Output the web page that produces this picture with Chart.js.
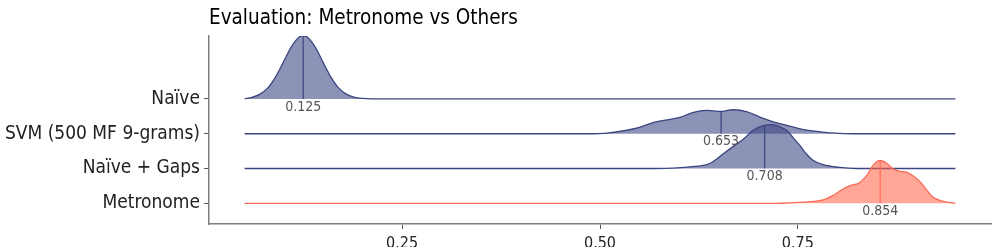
<!DOCTYPE html>
<html>
<head>
<meta charset="utf-8">
<script src="https://cdn.jsdelivr.net/npm/chart.js@4/dist/chart.umd.min.js"></script>
<style>
  html, body { margin: 0; padding: 0; background: #fff; }
  #wrap { width: 992px; height: 247px; position: relative; }
</style>
</head>
<body>
<div id="wrap"><canvas id="ridges"></canvas></div>
<script>
// rows from bottom (1) to top (4)
const rows = ["Metronome", "Naïve + Gaps", "SVM (500 MF 9-grams)", "Naïve"];
const medians = [0.854, 0.708, 0.653, 0.125];
const medianHeights = [1.23, 1.23, 0.65, 1.82];
const xTicks = [0.25, 0.50, 0.75];

// density estimates (x value, ridge height)
const metX = [0.051, 0.72, 0.736, 0.761, 0.782, 0.794, 0.807, 0.816, 0.828, 0.837, 0.845, 0.854, 0.862, 0.870, 0.879, 0.888, 0.895, 0.904, 0.913, 0.920, 0.933, 0.946, 0.949];
const metH = [0, 0, 0.01, 0.04, 0.10, 0.22, 0.41, 0.51, 0.59, 0.80, 1.09, 1.23, 1.15, 0.99, 0.92, 0.89, 0.80, 0.63, 0.38, 0.19, 0.06, 0.01, 0];

const gapsX = [0.051, 0.57, 0.592, 0.614, 0.635, 0.643, 0.655, 0.668, 0.681, 0.693, 0.706, 0.718, 0.727, 0.736, 0.744, 0.753, 0.761, 0.769, 0.782, 0.803, 0.824, 0.949];
const gapsH = [0, 0, 0.01, 0.05, 0.11, 0.20, 0.41, 0.63, 0.84, 1.09, 1.23, 1.26, 1.20, 1.09, 0.89, 0.65, 0.41, 0.24, 0.11, 0.03, 0, 0];

const svmX = [0.051, 0.48, 0.500, 0.509, 0.534, 0.551, 0.567, 0.585, 0.601, 0.617, 0.635, 0.652, 0.668, 0.686, 0.702, 0.718, 0.736, 0.753, 0.769, 0.787, 0.803, 0.82, 0.949];
const svmH = [0, 0, 0.005, 0.02, 0.10, 0.19, 0.32, 0.40, 0.47, 0.61, 0.67, 0.64, 0.69, 0.63, 0.48, 0.35, 0.24, 0.14, 0.08, 0.03, 0.01, 0, 0];

const naiveX = [0.051, 0.06, 0.07, 0.08, 0.09, 0.10, 0.11, 0.12, 0.125, 0.13, 0.14, 0.15, 0.16, 0.17, 0.18, 0.19, 0.20, 0.21, 0.949];
const naiveH = [0.005, 0.046, 0.13, 0.31, 0.63, 1.06, 1.50, 1.78, 1.82, 1.78, 1.50, 1.06, 0.63, 0.31, 0.13, 0.046, 0.014, 0, 0];

const BLUE = "rgb(58, 69, 130)";
const BLUE_FILL = "rgba(58, 69, 130, 0.58)";
const RED = "rgb(250, 108, 88)";
const RED_FILL = "rgba(255, 99, 71, 0.57)";
const FONT = "'DejaVu Sans Condensed', 'Liberation Sans Narrow', sans-serif";

const curves = [
    { xs: metX, hs: metH, line: RED, fill: RED_FILL },
    { xs: gapsX, hs: gapsH, line: BLUE, fill: BLUE_FILL },
    { xs: svmX, hs: svmH, line: BLUE, fill: BLUE_FILL },
    { xs: naiveX, hs: naiveH, line: BLUE, fill: BLUE_FILL }
];

const datasets = [];
curves.forEach((c, i) => {
    const base = i + 1;
    datasets.push({
        label: rows[i],
        data: c.xs.map((x, k) => ({ x: x, y: base + c.hs[k] })),
        borderColor: c.line,
        backgroundColor: c.fill,
        borderWidth: 1.3,
        pointRadius: 0,
        cubicInterpolationMode: "monotone",
        fill: { value: base },
        order: i * 2 + 1
    });
    datasets.push({
        label: rows[i] + " median",
        data: [{ x: medians[i], y: base }, { x: medians[i], y: base + medianHeights[i] }],
        borderColor: c.line,
        borderWidth: 1.2,
        pointRadius: 0,
        fill: false,
        order: i * 2
    });
});

const medianLabels = {
    id: "medianLabels",
    afterDatasetsDraw(chart) {
        const { ctx, scales } = chart;
        ctx.save();
        ctx.font = "14px " + FONT;
        ctx.fillStyle = "#555";
        ctx.textAlign = "center";
        ctx.textBaseline = "top";
        medians.forEach((m, i) => {
            ctx.fillText(m.toFixed(3), scales.x.getPixelForValue(m), scales.y.getPixelForValue(i + 1) + 1);
        });
        ctx.restore();
    }
};

const titleText = {
    id: "titleText",
    afterDraw(chart) {
        const { ctx } = chart;
        ctx.save();
        ctx.font = "20.5px " + FONT;
        ctx.fillStyle = "#000";
        ctx.textAlign = "left";
        ctx.textBaseline = "alphabetic";
        ctx.fillText("Evaluation: Metronome vs Others", chart.chartArea.left, 24);
        ctx.restore();
    }
};

new Chart(document.getElementById("ridges"), {
    type: "line",
    data: { datasets: datasets },
    options: {
        responsive: true,
        maintainAspectRatio: false,
        animation: false,
        layout: { padding: { top: 36, right: 1, left: 0, bottom: 0 } },
        plugins: {
            legend: { display: false },
            tooltip: { enabled: false }
        },
        scales: {
            x: {
                type: "linear",
                min: 0.006,
                max: 0.994,
                afterBuildTicks: s => { s.ticks = xTicks.map(v => ({ value: v })); },
                afterFit: s => { s.height = 23; },
                grid: { display: true, drawOnChartArea: false, drawTicks: true, tickLength: 5, color: "#555" },
                border: { display: true, color: "#7f7f7f", width: 1.5 },
                ticks: { padding: 5, color: "#222", font: { family: FONT, size: 16 }, callback: v => v.toFixed(2), maxRotation: 0 }
            },
            y: {
                type: "linear",
                min: 0.405,
                max: 5.81,
                afterBuildTicks: s => { s.ticks = [1, 2, 3, 4].map(v => ({ value: v })); },
                afterFit: s => { s.width = 209; },
                grid: { display: true, drawOnChartArea: false, drawTicks: true, tickLength: 5, color: "#555" },
                border: { display: true, color: "#7f7f7f", width: 1.5 },
                ticks: { padding: 4, color: "#222", font: { family: FONT, size: 19 }, callback: v => rows[v - 1] }
            }
        }
    },
    plugins: [medianLabels, titleText]
});
</script>
</body>
</html>
